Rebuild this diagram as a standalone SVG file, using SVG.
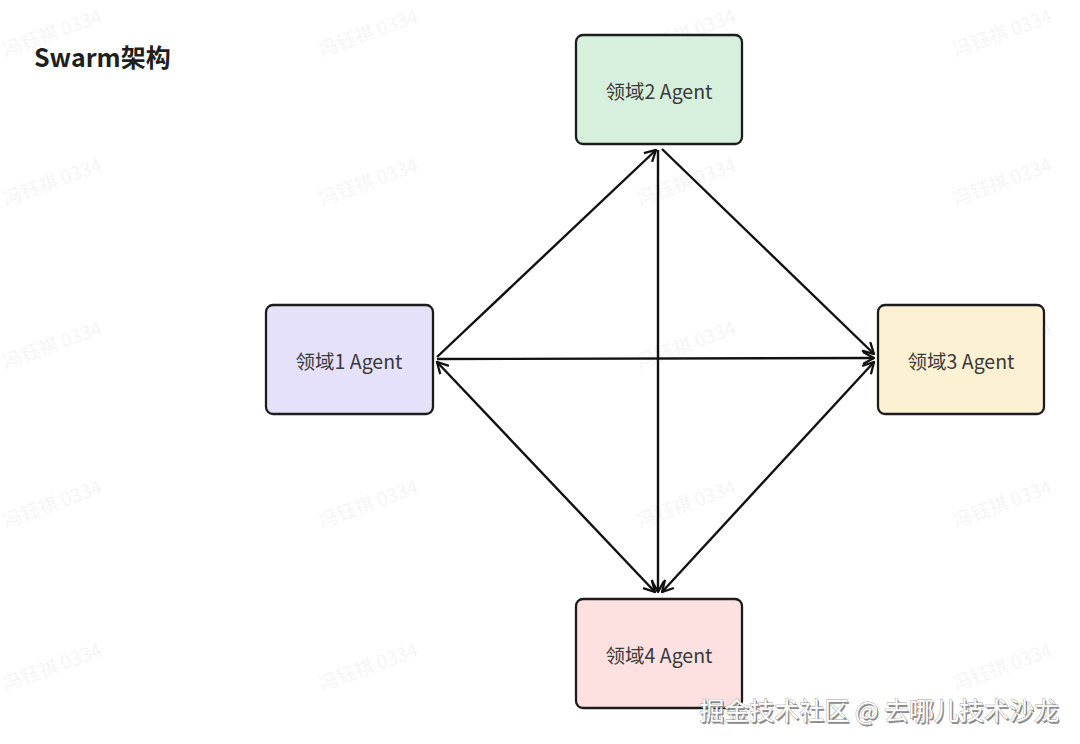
<svg xmlns="http://www.w3.org/2000/svg" width="1080" height="744" viewBox="0 0 1080 744">
<style>
.node rect{stroke:#1c1c1c;stroke-width:2.3}
.lbl{font-family:"Noto Sans CJK SC","Noto Sans",sans-serif;font-size:19.5px;fill:#3a3a3a;text-anchor:middle;dominant-baseline:central}
.title{font-family:"Noto Sans CJK SC","Noto Sans",sans-serif;font-size:25px;font-weight:bold;fill:#1f1f1f}
.wm{font-family:"Noto Sans CJK SC","Noto Sans",sans-serif;font-size:19px;fill:#000;opacity:0.035}
.edge{stroke:#111;stroke-width:2.4;fill:none}
.brand{font-family:"Noto Sans CJK SC",sans-serif;font-size:25px;text-anchor:end}
</style>
<defs>
<marker id="ah" viewBox="0 0 14 14" refX="13" refY="7" markerWidth="14" markerHeight="14" markerUnits="userSpaceOnUse" orient="auto-start-reverse">
<path d="M2,1 L13,7 L2,13" fill="none" stroke="#111" stroke-width="2.3"/>
</marker>
</defs>
<rect width="1080" height="744" fill="#ffffff"/>
<g id="watermarks">
<text class="wm" transform="translate(6,57) rotate(-20)">冯钰祺 0334</text>
<text class="wm" transform="translate(322,57) rotate(-20)">冯钰祺 0334</text>
<text class="wm" transform="translate(640,57) rotate(-20)">冯钰祺 0334</text>
<text class="wm" transform="translate(956,57) rotate(-20)">冯钰祺 0334</text>
<text class="wm" transform="translate(6,206) rotate(-20)">冯钰祺 0334</text>
<text class="wm" transform="translate(322,206) rotate(-20)">冯钰祺 0334</text>
<text class="wm" transform="translate(640,206) rotate(-20)">冯钰祺 0334</text>
<text class="wm" transform="translate(956,206) rotate(-20)">冯钰祺 0334</text>
<text class="wm" transform="translate(6,369) rotate(-20)">冯钰祺 0334</text>
<text class="wm" transform="translate(322,369) rotate(-20)">冯钰祺 0334</text>
<text class="wm" transform="translate(640,369) rotate(-20)">冯钰祺 0334</text>
<text class="wm" transform="translate(956,369) rotate(-20)">冯钰祺 0334</text>
<text class="wm" transform="translate(6,528) rotate(-20)">冯钰祺 0334</text>
<text class="wm" transform="translate(322,528) rotate(-20)">冯钰祺 0334</text>
<text class="wm" transform="translate(640,528) rotate(-20)">冯钰祺 0334</text>
<text class="wm" transform="translate(956,528) rotate(-20)">冯钰祺 0334</text>
<text class="wm" transform="translate(6,691) rotate(-20)">冯钰祺 0334</text>
<text class="wm" transform="translate(322,691) rotate(-20)">冯钰祺 0334</text>
<text class="wm" transform="translate(640,691) rotate(-20)">冯钰祺 0334</text>
<text class="wm" transform="translate(956,691) rotate(-20)">冯钰祺 0334</text>
</g>
<text class="title" x="34" y="67">Swarm架构</text>
<g id="connectors">
<line class="edge" x1="437" y1="357" x2="656" y2="150" marker-end="url(#ah)"/>
<line class="edge" x1="662" y1="149" x2="874" y2="354" marker-end="url(#ah)"/>
<line class="edge" x1="658" y1="150" x2="658" y2="592" marker-end="url(#ah)"/>
<line class="edge" x1="437" y1="359" x2="874" y2="358" marker-end="url(#ah)"/>
<line class="edge" x1="437" y1="362" x2="655" y2="592" marker-start="url(#ah)" marker-end="url(#ah)"/>
<line class="edge" x1="874" y1="362" x2="662" y2="592" marker-start="url(#ah)" marker-end="url(#ah)"/>
</g>
<g id="node2" class="node">
<rect x="576" y="35" width="166" height="109" rx="7" fill="#d6f0dd"/>
<text class="lbl" x="659" y="90">领域2 Agent</text>
</g>
<g id="node1" class="node">
<rect x="266" y="305" width="167" height="109" rx="7" fill="#e6e1fa"/>
<text class="lbl" x="349" y="360">领域1 Agent</text>
</g>
<g id="node3" class="node">
<rect x="878" y="305" width="166" height="109" rx="7" fill="#fdf1d3"/>
<text class="lbl" x="961" y="360">领域3 Agent</text>
</g>
<g id="node4" class="node">
<rect x="576" y="599" width="166" height="109" rx="7" fill="#fde1e0"/>
<text class="lbl" x="659" y="654">领域4 Agent</text>
</g>
<text class="brand" x="1059" y="720" fill="#8a8a8a" transform="translate(1.5,1.5)">掘金技术社区 @ 去哪儿技术沙龙</text>
<text class="brand" x="1059" y="720" fill="#ffffff" stroke="#9a9a9a" stroke-width="0.8" paint-order="stroke">掘金技术社区 @ 去哪儿技术沙龙</text>
</svg>
